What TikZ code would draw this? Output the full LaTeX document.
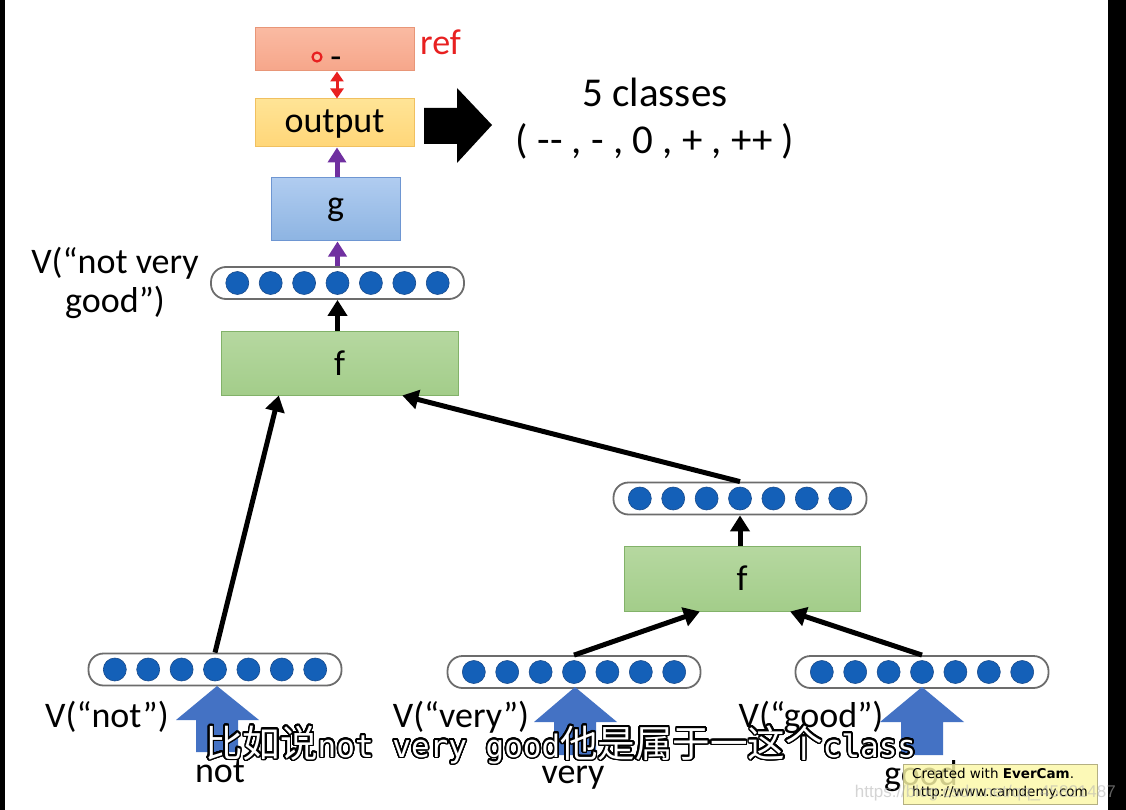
\documentclass[tikz,border=0pt]{standalone}
\usepackage{fontspec}
\setmainfont{Carlito}
\newfontfamily\cjk{Noto Sans CJK SC}
\newfontfamily\monof{DejaVu Sans Mono}
\newfontfamily\dvs{DejaVu Sans}
\newfontfamily\libs{Liberation Sans}
\usepackage[copies]{contour}
\contourlength{1.6pt}
\contournumber{32}
\usetikzlibrary{arrows.meta,calc}
\definecolor{refred}{RGB}{232,32,32}
\definecolor{arrpurple}{RGB}{112,48,160}
\definecolor{dotblue}{RGB}{20,96,184}
\definecolor{dotedge}{RGB}{25,75,140}
\definecolor{bigblue}{RGB}{68,114,196}
\definecolor{reffill}{RGB}{246,166,138}
\definecolor{reftop}{RGB}{250,186,162}
\definecolor{refdraw}{RGB}{232,150,120}
\definecolor{outfill}{RGB}{255,214,120}
\definecolor{outtop}{RGB}{255,228,150}
\definecolor{outdraw}{RGB}{240,192,96}
\definecolor{gfill}{RGB}{141,180,226}
\definecolor{gtop}{RGB}{176,204,240}
\definecolor{gdraw}{RGB}{110,150,210}
\definecolor{ffill}{RGB}{163,205,138}
\definecolor{ftop}{RGB}{182,216,160}
\definecolor{fdraw}{RGB}{130,178,105}
\definecolor{evfill}{RGB}{252,248,168}
\definecolor{evdraw}{RGB}{180,176,130}
\tikzset{
  lbl/.style={font=\fontsize{36}{40}\selectfont, inner sep=0pt},
  boxnode/.style={lbl, draw, line width=1pt, top color=#1top, bottom color=#1fill, draw=#1draw},
  vecnode/.style={draw=gray!85!black, line width=1.8pt, fill=white, rounded corners=15pt,
    minimum width=253pt, minimum height=32pt, inner sep=0pt},
  dot/.style={fill=dotblue, draw=dotedge, line width=0.6pt},
  blk/.style={line width=5pt, -{Triangle[width=19pt,length=16pt]}},
  pur/.style={line width=5pt, arrpurple, -{Triangle[width=18pt,length=15pt]}},
  redarr/.style={line width=3pt, refred, {Triangle[width=13pt,length=10pt]}-{Triangle[width=13pt,length=10pt]}},
}
\newcommand{\dotrow}[1]{%
  \foreach \k in {-3,...,3}{\path[dot] ($(#1.center)+(\k*33.4,0)$) circle (11.5);}}
\begin{document}
\begin{tikzpicture}[x=1pt,y=-1pt]
\useasboundingbox (0,0) rectangle (1126,810);
\fill[white] (0,0) rectangle (1126,810);
\fill[black] (0,0) rectangle (5,810);
\fill[black] (1108,0) rectangle (1126,810);

% top boxes
\node[boxnode=ref, minimum width=159pt, minimum height=43pt] (ref) at (334.5,49.5) {};
\draw[refred, line width=2.2pt, fill=reftop] (317,57) circle (4.5);
\node[lbl, anchor=base] (refdash) at (336,69) {-};
\node[lbl, anchor=base west, text=refred] (reflbl) at (420,55) {ref};
\node[boxnode=out, minimum width=159pt, minimum height=48pt, text depth=6pt, text height=26pt] (out) at (334.5,123) {output};
\node[boxnode=g, minimum width=129pt, minimum height=63pt] (g) at (335.5,209.5) {g};
\node[boxnode=f, minimum width=237pt, minimum height=64pt] (f1) at (339.5,363) {f};
\node[boxnode=f, minimum width=236pt, minimum height=65pt] (f2) at (742,578.5) {f};

% big black arrow and classes
\fill[black] (424,108) -- (457,108) -- (457,88) -- (492,125) -- (457,163) -- (457,144) -- (424,144) -- cycle;
\node[lbl, font=\fontsize{41}{44}\selectfont, anchor=base] (cls1) at (655,107) {5 classes};
\node[lbl, font=\fontsize{41}{44}\selectfont, anchor=base] (cls2) at (655,154) {( {-}{-} , - , 0 , + , ++ )};

% vectors
\node[vecnode] (vtop) at (337.5,283) {};
\node[vecnode] (vmid) at (740,498.5) {};
\node[vecnode] (vnot) at (215,669.5) {};
\node[vecnode] (vvery) at (574,672) {};
\node[vecnode] (vgood) at (922,672) {};
\dotrow{vtop}\dotrow{vmid}\dotrow{vnot}\dotrow{vvery}\dotrow{vgood}

% labels
\node[lbl, align=center, anchor=base] (ltop) at (115,312) {V(“not very\\[-1pt]good”)};
\node[lbl, anchor=base] (lnot) at (107,727) {V(“not”)};
\node[lbl, anchor=base] (lvery) at (461,727) {V(“very”)};
\node[lbl, anchor=base] (lgood) at (811,727) {V(“good”)};

% connectors
\draw[redarr] (out.north -| 337,0) -- (ref.south -| 337,0);
\draw[pur] (g.north -| 337,0) -- (out.south -| 337,0);
\draw[pur] (vtop.north) -- (g.south -| vtop.north);
\draw[blk] (f1.north -| vtop.south) -- (vtop.south);
\draw[blk] (vnot.north) -- ($(f1.south west)!0.245!(f1.south east)$);
\draw[blk] (vmid.north) -- ($(f1.south west)!0.764!(f1.south east)$);
\draw[blk] (f2.north -| vmid.south) -- (vmid.south);
\draw[blk] (vvery.north) -- ($(f2.south west)!0.322!(f2.south east)$);
\draw[blk] (vgood.north) -- ($(f2.south west)!0.703!(f2.south east)$);

% blue block arrows
\fill[bigblue] (217,686) -- (259,720) -- (238,720) -- (238,752) -- (196,752) -- (196,720) -- (176,720) -- cycle;
\fill[bigblue] (575,687) -- (617,722) -- (596,722) -- (596,755) -- (554,755) -- (554,722) -- (534,722) -- cycle;
\fill[bigblue] (922,687) -- (964,722) -- (943,722) -- (943,755) -- (901,755) -- (901,722) -- (880,722) -- cycle;

% words
\node[lbl, anchor=base] (wnot) at (220,782) {not};
\node[lbl, anchor=base] (wvery) at (573,783) {very};
\node[lbl, anchor=base west] (wgood) at (884,785) {good};

% subtitle
\node[inner sep=0pt, anchor=base west] (sub) at (205,757)
  {\textcolor{white}{\contour{black}{\cjk\fontsize{37.5}{40}\selectfont 比如说{\monof\fontsize{31}{40}\selectfont not very good}他是属于一这个{\monof\fontsize{31}{40}\selectfont class}}}};

% EverCam box
\node[draw=evdraw, fill=evfill, fill opacity=0.82, text opacity=1, line width=0.8pt,
  minimum width=194pt, minimum height=40pt, inner sep=0pt, align=left,
  font=\dvs\fontsize{13.5}{18}\selectfont] (ever) at (1000,784)
  {Created with \textbf{EverCam}.\\http://www.camdemy.com};
\node[anchor=base east, inner sep=0pt, text=gray!60, text opacity=0.55,
  font=\libs\fontsize{17}{20}\selectfont] (wm) at (1116,797) {https://blog.csdn.net/qq\_45821487};
\end{tikzpicture}
\end{document}
